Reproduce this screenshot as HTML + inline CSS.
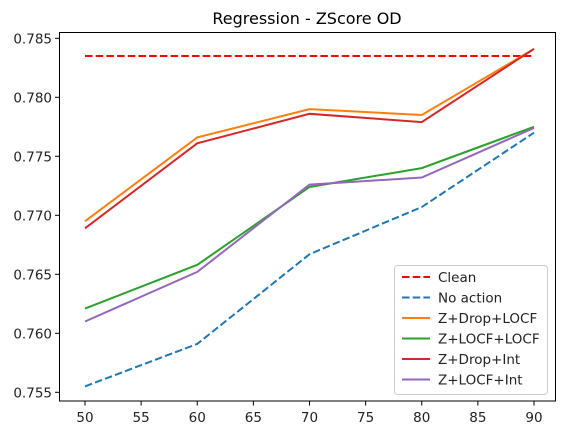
<!DOCTYPE html>
<html><head><meta charset="utf-8"><style>
body{margin:0;background:#fff;}
svg{font-family:"DejaVu Sans","Liberation Sans",sans-serif;}
</style></head><body>
<svg id="chart" width="565" height="435" xmlns="http://www.w3.org/2000/svg">
<rect width="565" height="435" fill="#fff"/>
<text x="307" y="24" font-size="16" text-anchor="middle">Regression - ZScore OD</text>
<g id="grid"></g>
<g id="series"></g>
<rect x="59.5" y="32.5" width="496" height="368.5" fill="none" stroke="#000" stroke-width="1"/>
<g id="legend"></g>
</svg>
<script>
const categories=[50,60,70,80,90];
const xTicks=[50,55,60,65,70,75,80,85,90];
const yTicks=[0.755,0.760,0.765,0.770,0.775,0.780,0.785];
const clean=[0.7835,0.7835,0.7835,0.7835,0.7835];
const noAction=[0.7555,0.7591,0.7667,0.7707,0.7770];
const zDropLocf=[0.7695,0.7766,0.7790,0.7785,0.7841];
const zLocfLocf=[0.7621,0.7658,0.7724,0.7740,0.7775];
const zDropInt=[0.7689,0.7761,0.7786,0.7779,0.7841];
const zLocfInt=[0.7610,0.7652,0.7726,0.7732,0.7774];
const seriesNames=["Clean","No action","Z+Drop+LOCF","Z+LOCF+LOCF","Z+Drop+Int","Z+LOCF+Int"];
const seriesData=[clean,noAction,zDropLocf,zLocfLocf,zDropInt,zLocfInt];
const colors=["#ff0000","#1f77b4","#ff7f0e","#2ca02c","#d62728","#9467bd"];
const dashed=[true,true,false,false,false,false];
const NS="http://www.w3.org/2000/svg";
function xs(v){return 85+(v-50)*(534-85)/40;}
function ys(v){return 392.3-(v-0.755)*59/0.005;}
function mk(tag,attrs,parent){const e=document.createElementNS(NS,tag);for(const k in attrs)e.setAttribute(k,attrs[k]);parent.appendChild(e);return e;}
const g=document.getElementById('grid');
xTicks.forEach(t=>{
  const l=mk('line',{x1:xs(t),x2:xs(t),y1:401,y2:405.5,stroke:'#000'},g);
  
  
  const tx=mk('text',{x:xs(t),y:422,'font-size':13.5,'text-anchor':'middle',fill:'#222'},g);
  tx.textContent=t;
  
  
});
yTicks.forEach(t=>{
  const l=mk('line',{x1:55,x2:59.5,y1:ys(t),y2:ys(t),stroke:'#000'},g);
  
  
  const tx=mk('text',{x:52,y:ys(t)+5,'font-size':13.5,'text-anchor':'end',fill:'#222'},g);
  tx.textContent=t.toFixed(3);
  
  
});
const s=document.getElementById('series');
seriesData.forEach((d,i)=>{
  const pts=d.map((v,j)=>xs(categories[j])+','+ys(v)).join(' ');
  const p=mk('polyline',{points:pts,fill:'none',stroke:colors[i],'stroke-width':2},s);
  if(dashed[i])p.setAttribute('stroke-dasharray','7.5,3.2');
  
  
});
const lg=document.getElementById('legend');
const box=mk('rect',{x:394.5,y:265.5,width:153,height:129,rx:3,fill:'#fff','fill-opacity':0.8,stroke:'#ccc'},lg);


seriesNames.forEach((n,i)=>{
  const y=277+i*20.5;
  const l=mk('line',{x1:402,x2:430,y1:y,y2:y,stroke:colors[i],'stroke-width':2},lg);
  if(dashed[i])l.setAttribute('stroke-dasharray','7.5,3.2');
  
  
  const t=mk('text',{x:438,y:y+5,'font-size':13.5,fill:'#222'},lg);
  t.textContent=n;
  
  
});
</script>
</body></html>
